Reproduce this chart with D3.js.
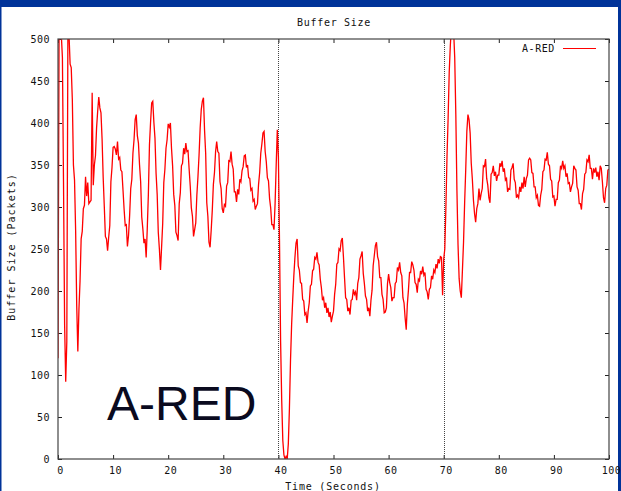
<!DOCTYPE html>
<html>
<head>
<meta charset="utf-8">
<script src="https://cdn.jsdelivr.net/npm/d3@7"></script>
<style>
  html, body { margin: 0; padding: 0; background: #ffffff; overflow: hidden; }
  svg { display: block; }
</style>
</head>
<body>
<svg id="chart" width="621" height="491"></svg>
<script>
// Queue occupancy sampled every SAMPLE_STEP seconds over the 100 s run
const SAMPLE_STEP = 0.2;
const bufferPackets = [
  120, 520, 530, 505, 478, 330, 160,  92, 140, 515,
  505, 470, 466, 428, 350, 332, 272, 182, 128, 178,
  212, 262, 271, 298, 302, 336, 313, 329, 304, 306,
  308, 436, 326, 350, 361, 394, 414, 431, 418, 412,
  381, 335, 301, 265, 262, 248, 264, 278, 330, 347,
  371, 372, 369, 362, 378, 357, 359, 344, 342, 320,
  297, 278, 279, 253, 266, 290, 322, 333, 364, 380,
  404, 410, 385, 376, 350, 330, 288, 274, 257, 262,
  240, 274, 315, 374, 401, 424, 426, 401, 382, 340,
  315, 270, 250, 225, 252, 280, 329, 345, 370, 380,
  399, 395, 400, 370, 349, 315, 302, 270, 266, 260,
  304, 317, 349, 352, 370, 363, 376, 366, 367, 345,
  325, 299, 289, 265, 273, 281, 314, 336, 362, 394,
  416, 426, 430, 391, 364, 305, 289, 258, 252, 272,
  296, 327, 341, 366, 378, 366, 364, 330, 322, 298,
  293, 303, 301, 325, 329, 355, 354, 366, 351, 345,
  318, 318, 306, 321, 315, 333, 330, 343, 348, 361,
  362, 347, 350, 335, 334, 320, 322, 307, 309, 297,
  301, 304, 327, 341, 364, 375, 388, 390, 366, 354,
  335, 331, 310, 299, 279, 279, 273, 304, 350, 392,
  360, 260, 140,  70,  22,   5,   0,   3,   0,  18,
   60, 118, 160, 190, 218, 240, 257, 262, 230, 225,
  210, 209, 190, 188, 172, 174, 162, 176, 186, 206,
  208, 224, 226, 240, 238, 246, 234, 231, 214, 204,
  189, 192, 180, 186, 174, 180, 169, 175, 163, 170,
  176, 196, 208, 232, 234, 250, 248, 260, 263, 241,
  216, 192, 190, 176, 180, 172, 189, 190, 202, 196,
  199, 189, 209, 216, 238, 242, 247, 221, 209, 194,
  190, 176, 180, 170, 189, 201, 230, 242, 254, 258,
  241, 236, 216, 216, 196, 190, 174, 175, 180, 209,
  220, 210, 204, 188, 192, 192, 209, 211, 228, 225,
  234, 222, 218, 192, 186, 168, 154, 184, 201, 222,
  222, 235, 231, 225, 210, 208, 198, 214, 212, 224,
  220, 229, 219, 222, 202, 199, 190, 202, 204, 218,
  214, 225, 222, 232, 227, 238, 233, 241, 240, 195,
  238, 250, 300, 360, 405, 460, 492, 515, 520, 510,
  478, 410, 320, 255, 215, 200, 192, 225, 258, 305,
  345, 390, 410, 404, 388, 352, 333, 308, 292, 282,
  298, 304, 322, 308, 316, 322, 349, 348, 357, 334,
  326, 311, 305, 339, 341, 349, 337, 342, 331, 338,
  338, 352, 348, 355, 342, 346, 332, 334, 318, 322,
  321, 344, 347, 352, 333, 329, 311, 314, 311, 324,
  318, 329, 322, 336, 324, 334, 338, 356, 358, 356,
  341, 340, 324, 324, 311, 314, 302, 301, 314, 321,
  342, 344, 357, 356, 365, 351, 349, 333, 331, 312,
  313, 301, 309, 309, 329, 332, 349, 346, 355, 346,
  349, 336, 340, 328, 329, 318, 324, 328, 349, 346,
  344, 324, 320, 304, 304, 297, 316, 321, 339, 341,
  356, 354, 362, 346, 346, 333, 346, 341, 347, 336,
  342, 332, 349, 346, 330, 311, 305, 322, 326, 344,
  345
];

const xTicks = [0, 10, 20, 30, 40, 50, 60, 70, 80, 90, 100];
const yTicks = [0, 50, 100, 150, 200, 250, 300, 350, 400, 450, 500];
const eventTimes = [40, 70];

const chartTitle = "Buffer Size";
const xTitle = "Time (Seconds)";
const yTitle = "Buffer Size (Packets)";
const seriesName = "A-RED";
const slideLabel = "A-RED";

const W = 621, H = 491;
const plot = { left: 58, right: 609, top: 39, bottom: 459 };
const monoFont = "'DejaVu Sans Mono', 'Liberation Mono', monospace";

const svg = d3.select("#chart");

// page background and the dark blue slide frame
svg.append("rect").attr("width", W).attr("height", H).attr("fill", "#ffffff");
svg.append("rect").attr("x", 0).attr("y", 0).attr("width", W).attr("height", 7).attr("fill", "#003399");
svg.append("rect").attr("x", 0).attr("y", 0).attr("width", 1.5).attr("height", H).attr("fill", "#003399");
svg.append("rect").attr("x", 618).attr("y", 0).attr("width", 3).attr("height", H).attr("fill", "#003399");

const x = d3.scaleLinear().domain([0, 100]).range([plot.left, plot.right]);
const y = d3.scaleLinear().domain([0, 500]).range([plot.bottom, plot.top]);

svg.append("defs").append("clipPath").attr("id", "plotClip")
  .append("rect")
  .attr("x", plot.left).attr("y", plot.top)
  .attr("width", plot.right - plot.left).attr("height", plot.bottom - plot.top);

function monoText(sel, spacing) {
  return sel.style("font-family", monoFont).style("font-size", "10px")
    .style("letter-spacing", spacing + "px").attr("fill", "#111");
}

// axes: inward ticks on all four sides, labels only on bottom and left
function styleAxis(g) {
  g.select(".domain").remove();
  g.selectAll(".tick line").attr("stroke", "#222").attr("stroke-width", 1);
  monoText(g.selectAll("text"), 0.5);
}

svg.append("g")
  .attr("transform", `translate(0,${plot.bottom})`)
  .call(d3.axisBottom(x).tickValues(xTicks).tickSizeInner(-4).tickSizeOuter(0).tickPadding(8).tickFormat(d3.format("d")))
  .call(styleAxis)
  .call(g => g.selectAll("text").attr("x", 2));

svg.append("g")
  .attr("transform", `translate(0,${plot.top})`)
  .call(d3.axisTop(x).tickValues(xTicks).tickSizeInner(-4).tickSizeOuter(0).tickFormat(""))
  .call(styleAxis);

svg.append("g")
  .attr("transform", `translate(${plot.left},0)`)
  .call(d3.axisLeft(y).tickValues(yTicks).tickSizeInner(-4).tickSizeOuter(0).tickPadding(8).tickFormat(d3.format("d")))
  .call(styleAxis);

svg.append("g")
  .attr("transform", `translate(${plot.right},0)`)
  .call(d3.axisRight(y).tickValues(yTicks).tickSizeInner(-4).tickSizeOuter(0).tickFormat(""))
  .call(styleAxis);

// event markers
svg.append("g").selectAll("line").data(eventTimes).join("line")
  .attr("x1", d => Math.round(x(d)) + 0.5).attr("x2", d => Math.round(x(d)) + 0.5)
  .attr("y1", plot.top).attr("y2", plot.bottom)
  .attr("stroke", "#444").attr("stroke-width", 1).attr("stroke-dasharray", "1,1");

// buffer trace
const line = d3.line()
  .x((d, i) => x(i * SAMPLE_STEP))
  .y(d => y(d));

svg.append("path")
  .datum(bufferPackets)
  .attr("clip-path", "url(#plotClip)")
  .attr("fill", "none")
  .attr("stroke", "#ff0000")
  .attr("stroke-width", 1.3)
  .attr("stroke-linejoin", "miter")
  .attr("d", line);

// plot border
svg.append("rect")
  .attr("x", plot.left).attr("y", plot.top)
  .attr("width", plot.right - plot.left).attr("height", plot.bottom - plot.top)
  .attr("fill", "none").attr("stroke", "#444").attr("stroke-width", 1.2);

// legend
monoText(svg.append("text"), 0.6)
  .attr("x", 555).attr("y", 52)
  .attr("text-anchor", "end")
  .text(seriesName);
svg.append("line")
  .attr("x1", 563).attr("x2", 596).attr("y1", 48.5).attr("y2", 48.5)
  .attr("stroke", "#ff0000").attr("stroke-width", 1);

// titles
monoText(svg.append("text"), 0.7)
  .attr("x", 334).attr("y", 26)
  .attr("text-anchor", "middle")
  .text(chartTitle);

monoText(svg.append("text"), 0.8)
  .attr("x", 333).attr("y", 490)
  .attr("text-anchor", "middle")
  .text(xTitle);

monoText(svg.append("text"), 1.0)
  .attr("transform", `translate(15,247) rotate(-90)`)
  .attr("text-anchor", "middle")
  .text(yTitle);

// large slide caption
svg.append("text")
  .attr("x", 107).attr("y", 420)
  .style("font-family", "'Liberation Sans', Arial, sans-serif").style("font-size", "48px")
  .attr("fill", "#0a0a1e")
  .text(slideLabel);
</script>
</body>
</html>
